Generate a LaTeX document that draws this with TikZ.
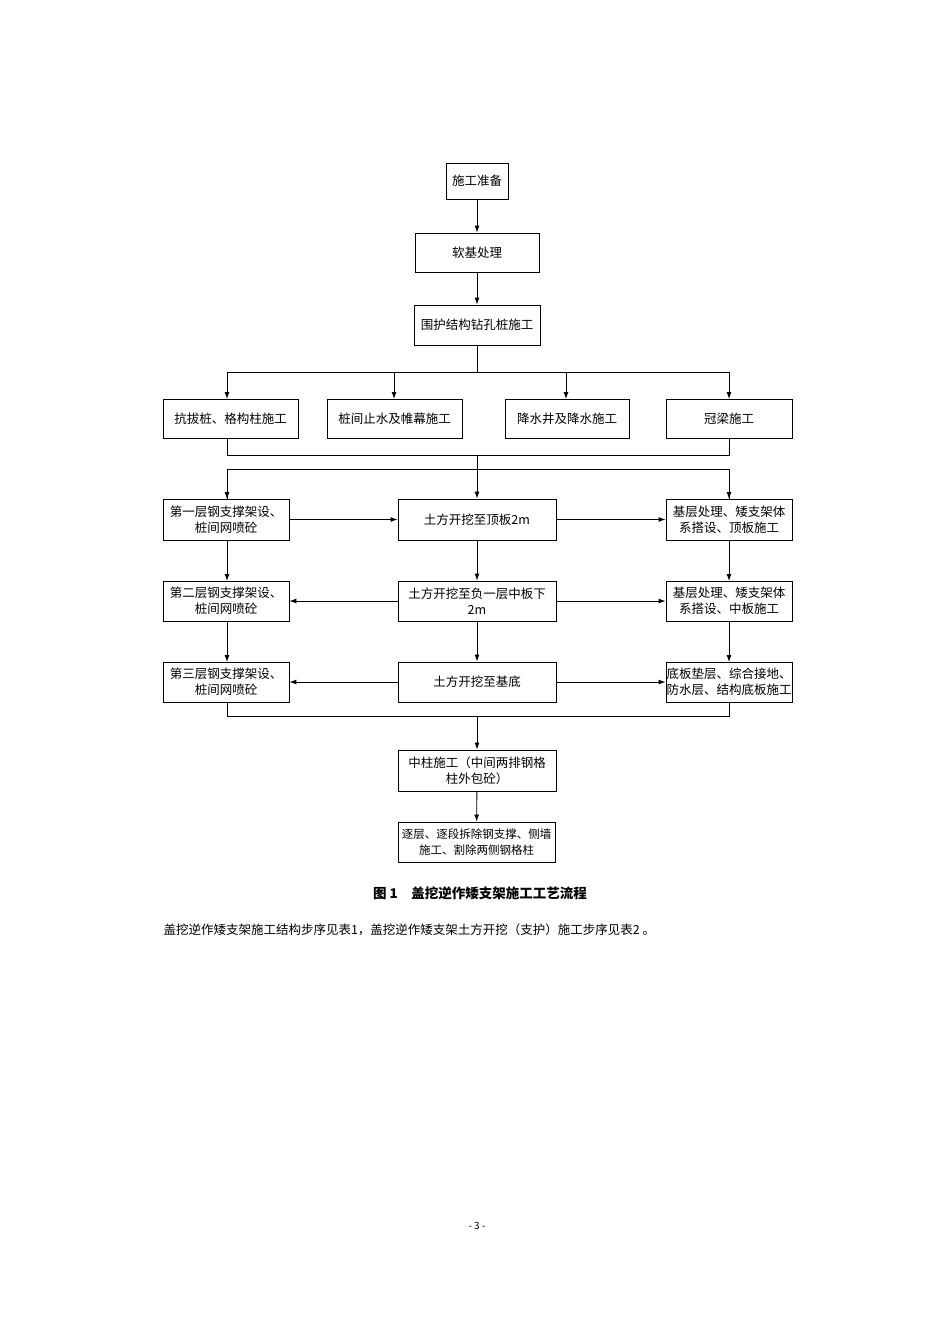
\documentclass[tikz,border=0pt]{standalone}
\usepackage{fontspec}
\newfontfamily\cjk{Noto Sans CJK SC}
\usetikzlibrary{arrows.meta}
\begin{document}
\begin{tikzpicture}[x=1pt,y=-1pt,font=\cjk\fontsize{12.5}{16}\selectfont,
  box/.style={draw,line width=0.9pt,inner sep=0pt,align=center},
  ar/.style={-{Latex[length=7pt,width=5pt]},line width=0.9pt},
  ln/.style={line width=0.9pt}]
\useasboundingbox (0,0) rectangle (950,1344);
\newcommand\bx[6]{\node[box,minimum width=#4-#3,minimum height=#6-#5] (#1) at ({(#3+#4)/2},{(#5+#6)/2}) {#2};}
\bx{a}{施工准备}{446}{508}{163}{199}
\bx{b}{软基处理}{415}{539}{233}{272}
\bx{c}{围护结构钻孔桩施工}{414}{540}{305}{345}
\bx{d1}{抗拔桩、格构柱施工}{163}{298}{399}{438}
\bx{d2}{桩间止水及帷幕施工}{327}{462}{399}{438}
\bx{d3}{降水井及降水施工}{505}{629}{399}{438}
\bx{d4}{冠梁施工}{666}{792}{399}{438}
\bx{l1}{第一层钢支撑架设、\\桩间网喷砼}{163}{289}{499}{540}
\bx{m1}{土方开挖至顶板2m}{398}{556}{499}{540}
\bx{r1}{基层处理、矮支架体\\系搭设、顶板施工}{666}{792}{499}{540}
\bx{l2}{第二层钢支撑架设、\\桩间网喷砼}{163}{289}{581}{621}
\bx{m2}{土方开挖至负一层中板下\\2m}{398}{556}{581}{621}
\bx{r2}{基层处理、矮支架体\\系搭设、中板施工}{666}{792}{581}{621}
\bx{l3}{第三层钢支撑架设、\\桩间网喷砼}{163}{289}{662}{702}
\bx{m3}{土方开挖至基底}{398}{556}{662}{702}
\bx{r3}{底板垫层、综合接地、\\防水层、结构底板施工}{666}{792}{662}{702}
\bx{e}{中柱施工（中间两排钢格\\柱外包砼）}{398}{556}{750}{791}
\bx{f}{\fontsize{11.5}{15}\selectfont 逐层、逐段拆除钢支撑、侧墙\\\fontsize{11.5}{15}\selectfont 施工、割除两侧钢格柱}{398}{555}{822}{862}
\coordinate (j1) at (477,372);
\coordinate (j2) at (477,455);
\coordinate (j3) at (477,469);
\coordinate (j4) at (477,716);
\draw[ar] (a) -- (b);
\draw[ar] (b) -- (c);
\draw[ln] (c) -- (j1);
\draw[ln] (227,372) -- (729,372);
\draw[ar] (227,372) -- (227,399);
\draw[ar] (394,372) -- (394,399);
\draw[ar] (566,372) -- (566,399);
\draw[ar] (729,372) -- (729,399);
\draw[ln] (227,438) -- (227,455) -- (729,455) -- (729,438);
\draw[ln] (227,499) -- (227,469) -- (729,469) -- (729,499);
\draw[ar] (227,480) -- (227,499);
\draw[ar] (729,480) -- (729,499);
\draw[ar] (j2) -- (m1);
\draw[ar] (l1) -- (m1);
\draw[ar] (m1) -- (r1);
\draw[ar] (m2) -- (l2);
\draw[ar] (m2) -- (r2);
\draw[ar] (m3) -- (l3);
\draw[ar] (m3) -- (r3);
\draw[ar] (227,540) -- (227,581);
\draw[ar] (227,621) -- (227,662);
\draw[ar] (m1) -- (m2);
\draw[ar] (m2) -- (m3);
\draw[ar] (729,540) -- (729,581);
\draw[ar] (729,621) -- (729,662);
\draw[ln] (227,702) -- (227,716) -- (729,716) -- (729,702);
\draw[ar] (j4) -- (e);
\draw[ar] (e) -- (f);
\node[font=\cjk\bfseries\fontsize{13.5}{16}\selectfont] (cap) at (480,893) {图 1\quad 盖挖逆作矮支架施工工艺流程};
\node[anchor=west] (para) at (160,930) {盖挖逆作矮支架施工结构步序见表1，盖挖逆作矮支架土方开挖（支护）施工步序见表2 。};
\node[font=\cjk\fontsize{10}{12}\selectfont] (pg) at (477,1226) {- 3 -};
\end{tikzpicture}
\end{document}
